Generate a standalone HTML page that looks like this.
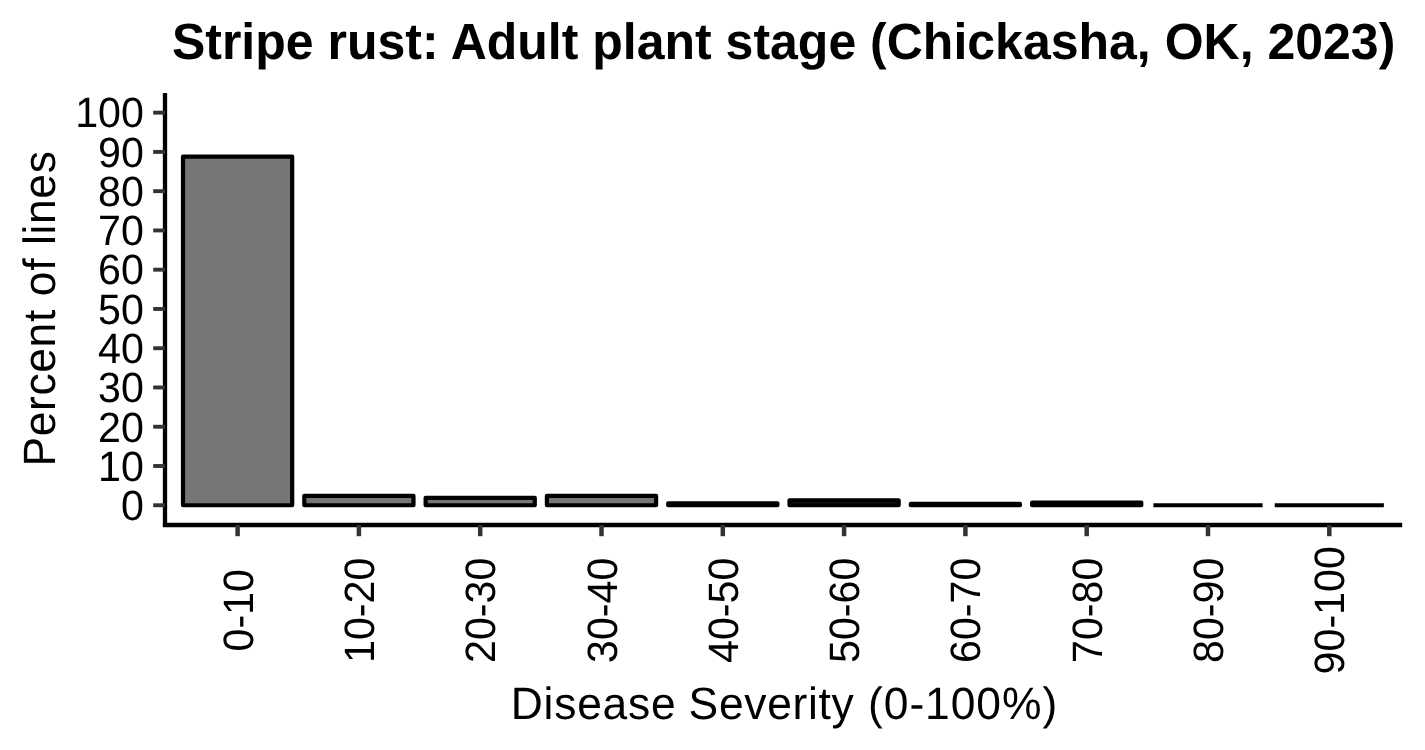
<!DOCTYPE html>
<html lang="en"><head><meta charset="utf-8"><title>Stripe rust: Adult plant stage (Chickasha, OK, 2023)</title>
<style>
html,body{margin:0;padding:0;background:#fff;}
body{width:1425px;height:750px;overflow:hidden;}
svg{display:block;text-rendering:geometricPrecision;font-family:"Liberation Sans",Arial,Helvetica,sans-serif;}
.t{font-weight:bold;font-size:50px;fill:#000;}
.al{font-size:44.4px;letter-spacing:0.77px;fill:#000;}
.tk{font-size:41.2px;fill:#000;}
</style></head><body>
<svg width="1425" height="750" viewBox="0 0 1425 750">
<rect width="1425" height="750" fill="#fff"/>
<text class="t" transform="translate(783.6,59.0) scale(1,1.02)" text-anchor="middle">Stripe rust: Adult plant stage (Chickasha, OK, 2023)</text>
<g fill="#767676" stroke="#000" stroke-width="4.2" stroke-linejoin="round">
<rect x="183.01" y="156.70" width="109.17" height="348.55"/>
<rect x="304.31" y="495.87" width="109.17" height="9.38"/>
<rect x="425.62" y="497.87" width="109.17" height="7.38"/>
<rect x="546.91" y="495.87" width="109.17" height="9.38"/>
<rect x="668.21" y="503.29" width="109.17" height="1.96" fill="#222"/>
<rect x="789.51" y="500.34" width="109.17" height="4.91" fill="#222"/>
<rect x="910.81" y="503.88" width="109.17" height="1.37" fill="#222"/>
<rect x="1032.12" y="502.66" width="109.17" height="2.59" fill="#222"/>
<line x1="1153.41" y1="505.25" x2="1262.59" y2="505.25" stroke-linecap="butt"/>
<line x1="1274.71" y1="505.25" x2="1383.88" y2="505.25" stroke-linecap="butt"/>
</g>
<g stroke="#000" stroke-width="4.3" fill="none" stroke-linecap="butt">
<line x1="165" y1="93" x2="165" y2="527.1"/>
<line x1="162.9" y1="525" x2="1402.2" y2="525"/>
</g>
<g stroke="#333" fill="none">
<line x1="153.2" y1="505.25" x2="165" y2="505.25" stroke-width="3.9"/>
<line x1="153.2" y1="465.99" x2="165" y2="465.99" stroke-width="3.9"/>
<line x1="153.2" y1="426.73" x2="165" y2="426.73" stroke-width="3.9"/>
<line x1="153.2" y1="387.47" x2="165" y2="387.47" stroke-width="3.9"/>
<line x1="153.2" y1="348.21" x2="165" y2="348.21" stroke-width="3.9"/>
<line x1="153.2" y1="308.95" x2="165" y2="308.95" stroke-width="3.9"/>
<line x1="153.2" y1="269.69" x2="165" y2="269.69" stroke-width="3.9"/>
<line x1="153.2" y1="230.43" x2="165" y2="230.43" stroke-width="3.9"/>
<line x1="153.2" y1="191.17" x2="165" y2="191.17" stroke-width="3.9"/>
<line x1="153.2" y1="151.91" x2="165" y2="151.91" stroke-width="3.9"/>
<line x1="153.2" y1="112.65" x2="165" y2="112.65" stroke-width="3.9"/>
<line x1="237.60" y1="525" x2="237.60" y2="536.2" stroke-width="4.5"/>
<line x1="358.90" y1="525" x2="358.90" y2="536.2" stroke-width="4.5"/>
<line x1="480.20" y1="525" x2="480.20" y2="536.2" stroke-width="4.5"/>
<line x1="601.50" y1="525" x2="601.50" y2="536.2" stroke-width="4.5"/>
<line x1="722.80" y1="525" x2="722.80" y2="536.2" stroke-width="4.5"/>
<line x1="844.10" y1="525" x2="844.10" y2="536.2" stroke-width="4.5"/>
<line x1="965.40" y1="525" x2="965.40" y2="536.2" stroke-width="4.5"/>
<line x1="1086.70" y1="525" x2="1086.70" y2="536.2" stroke-width="4.5"/>
<line x1="1208.00" y1="525" x2="1208.00" y2="536.2" stroke-width="4.5"/>
<line x1="1329.30" y1="525" x2="1329.30" y2="536.2" stroke-width="4.5"/>
</g>
<g class="tk" text-anchor="end">
<text transform="translate(143.9,520.05) scale(1,1.03)">0</text>
<text transform="translate(143.9,480.79) scale(1,1.03)">10</text>
<text transform="translate(143.9,441.53) scale(1,1.03)">20</text>
<text transform="translate(143.9,402.27) scale(1,1.03)">30</text>
<text transform="translate(143.9,363.01) scale(1,1.03)">40</text>
<text transform="translate(143.9,323.75) scale(1,1.03)">50</text>
<text transform="translate(143.9,284.49) scale(1,1.03)">60</text>
<text transform="translate(143.9,245.23) scale(1,1.03)">70</text>
<text transform="translate(143.9,205.97) scale(1,1.03)">80</text>
<text transform="translate(143.9,166.71) scale(1,1.03)">90</text>
<text transform="translate(143.9,127.45) scale(1,1.03)">100</text>
</g>
<g class="tk" text-anchor="middle">
<text transform="translate(252.60,610.3) rotate(-90) scale(1,1.03)">0-10</text>
<text transform="translate(373.90,610.3) rotate(-90) scale(1,1.03)">10-20</text>
<text transform="translate(495.20,610.3) rotate(-90) scale(1,1.03)">20-30</text>
<text transform="translate(616.50,610.3) rotate(-90) scale(1,1.03)">30-40</text>
<text transform="translate(737.80,610.3) rotate(-90) scale(1,1.03)">40-50</text>
<text transform="translate(859.10,610.3) rotate(-90) scale(1,1.03)">50-60</text>
<text transform="translate(980.40,610.3) rotate(-90) scale(1,1.03)">60-70</text>
<text transform="translate(1101.70,610.3) rotate(-90) scale(1,1.03)">70-80</text>
<text transform="translate(1223.00,610.3) rotate(-90) scale(1,1.03)">80-90</text>
<text transform="translate(1344.30,610.3) rotate(-90) scale(1,1.03)">90-100</text>
</g>
<text class="al" transform="translate(510.73,718.8) scale(1,1.02)" text-anchor="start" style="white-space:pre"><tspan>Disease</tspan><tspan style="letter-spacing:-0.23px"> </tspan><tspan style="letter-spacing:0.69px">Severity</tspan><tspan style="letter-spacing:1.21px"> </tspan><tspan style="letter-spacing:0.94px">(0-100%)</tspan></text>
<text class="al" style="letter-spacing:0.62px" transform="translate(55.0,308.5) rotate(-90) scale(1,1.02)" text-anchor="middle">Percent of lines</text>
</svg>
</body></html>
